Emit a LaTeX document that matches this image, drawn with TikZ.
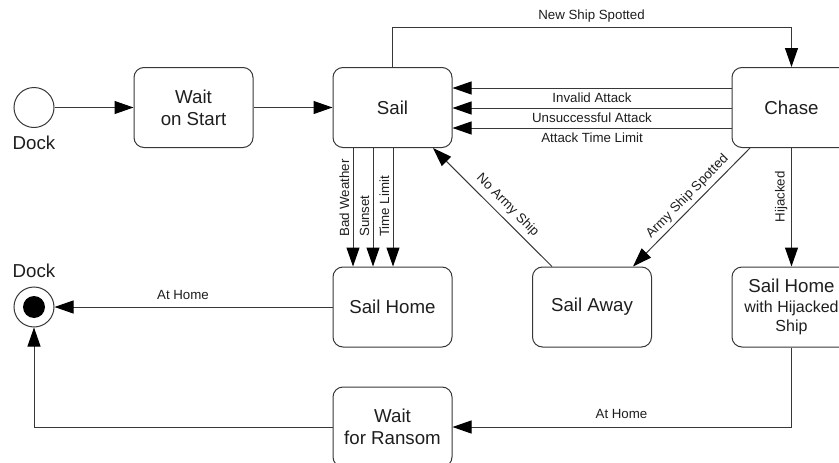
\documentclass[tikz,border=0pt]{standalone}
\usepackage{fontspec}
\setmainfont{Liberation Sans}
\usetikzlibrary{arrows.meta}
\definecolor{ln}{RGB}{55,55,55}
\definecolor{tx}{RGB}{30,30,30}
\newcommand{\smallstate}{\fontsize{16}{19.5}\selectfont}
\begin{document}
\begin{tikzpicture}[x=1pt,y=-1pt,
  state/.style={draw=ln, line width=1pt, rounded corners=10pt, minimum width=119pt,
    minimum height=80pt, inner sep=0pt, align=center, text=tx,
    font=\fontsize{18.7}{22}\selectfont},
  pseudo/.style={circle, draw=ln, line width=1pt, minimum size=40pt, inner sep=0pt},
  tr/.style={draw=ln, line width=1pt, -{Triangle[length=19pt,width=13pt,color=black]}},
  lbl/.style={font=\fontsize{13.3}{15}\selectfont, inner sep=0pt, text=tx},
  big/.style={font=\fontsize{18.7}{22}\selectfont, inner sep=0pt, text=tx}]
\useasboundingbox (0,0) rectangle (839,463);

% states
\node[pseudo] (start) at (34,107.5) {};
\node[big] (dockA) at (34,142.5) {Dock};
\node[state] (wait) at (193.5,107.5) {Wait\\on Start};
\node[state] (sail) at (392.5,107.5) {Sail};
\node[state] (chase) at (791.5,107.5) {Chase};
\node[state] (sailhome) at (392.5,307) {Sail Home};
\node[state] (sailaway) at (592,307) {Sail Away};
\node[state, font=\fontsize{18.7}{19.5}\selectfont] (hijack) at (791.5,307)
  {Sail Home\\\smallstate with Hijacked\\\smallstate Ship};
\node[state] (ransom) at (392.5,427) {Wait\\for Ransom};
\node[pseudo] (final) at (34,307) {};
\node[circle, fill=black, minimum size=22pt, inner sep=0pt] (finaldot) at (final.center) {};
\node[big] (dockB) at (34,271) {Dock};

% transitions
\draw[tr] (start) -- (wait);
\draw[tr] (wait) -- (sail);

\coordinate (nsA) at (sail.north |- 0,27);
\coordinate (nsB) at (chase.north |- 0,27);
\draw[tr] (sail.north) -- (nsA) -- (nsB) -- (chase.north);
\node[lbl, anchor=base] (lNS) at (591.5,19.5) {New Ship Spotted};

\draw[tr] (chase.west |- 0,88) -- (sail.east |- 0,88);
\draw[tr] (chase.west |- 0,108) -- (sail.east |- 0,108);
\draw[tr] (chase.west |- 0,128) -- (sail.east |- 0,128);
\node[lbl, anchor=base] (lIA) at (592,102) {Invalid Attack};
\node[lbl, anchor=base] (lUA) at (592,122) {Unsuccessful Attack};
\node[lbl, anchor=base] (lAT) at (592,142) {Attack Time Limit};

\draw[tr] (sail.south -| 353,0) -- (sailhome.north -| 353,0);
\draw[tr] (sail.south -| 373,0) -- (sailhome.north -| 373,0);
\draw[tr] (sail.south -| 393,0) -- (sailhome.north -| 393,0);
\node[lbl, rotate=90, anchor=base west] (lBW) at (349,237) {Bad Weather};
\node[lbl, rotate=90, anchor=base west] (lSS) at (369,237) {Sunset};
\node[lbl, rotate=90, anchor=base west] (lTL) at (389,237) {Time Limit};

\draw[tr] (sailaway.north -| 552,0) -- (sail.south -| 433,0);
\node[lbl, rotate=-45] (lNA) at (507.5,205.5) {No Army Ship};

\draw[tr] (chase.south -| 750,0) -- (sailaway.north -| 633,0);
\node[lbl, rotate=45.7] (lAS) at (687.5,196.5) {Army Ship Spotted};

\draw[tr] (chase) -- (hijack);
\node[lbl, rotate=90, anchor=base] (lHJ) at (784.5,197) {Hijacked};

\draw[tr] (sailhome) -- (final);
\node[lbl, anchor=base] (lAH1) at (183,299) {At Home};

\draw[tr] (hijack.south) |- (ransom.east);
\node[lbl, anchor=base] (lAH2) at (621.5,418) {At Home};

\draw[tr] (ransom.west) -| (final.south);
\end{tikzpicture}
\end{document}
